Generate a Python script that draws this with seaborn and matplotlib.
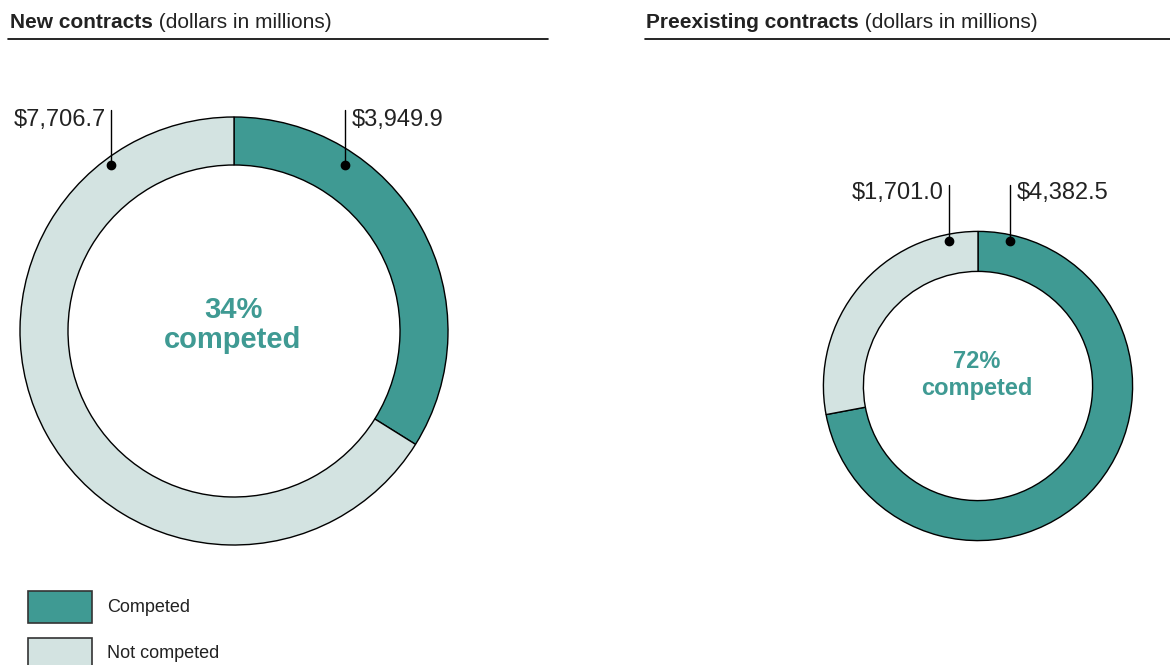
import numpy as np
import seaborn as sns
from matplotlib import pyplot as plt
from matplotlib.patches import Rectangle

sns.set_theme(style="white")
plt.rcParams['font.family'] = ['Liberation Sans', 'DejaVu Sans']

# data (dollars in millions)
panels = ["New contracts", "Preexisting contracts"]
competed = [3949.9, 4382.5]
not_competed = [7706.7, 1701.0]
categories = ["Competed", "Not competed"]

colors = ["#3f9a93", "#d3e3e1"]
teal = "#3f9a93"

W, H = 1170, 665
fig = plt.figure(figsize=(W / 100, H / 100), dpi=100)
ax = fig.add_axes([0, 0, 1, 1])

totals = [c + n for c, n in zip(competed, not_competed)]
r0 = 214
radii = [r0 * np.sqrt(t / totals[0]) for t in totals]
centers = [(234, 331), (978, 386)]
widths = [48, 40]

# y-axis is inverted (pixel coords), so counterclock=True runs clockwise on screen
for i in range(2):
    ax.pie([competed[i], not_competed[i]], colors=colors, startangle=270,
           counterclock=True, center=centers[i], radius=radii[i],
           wedgeprops=dict(width=widths[i], edgecolor="black", linewidth=1.0),
           frame=True)
ax.set_xlim(0, W)
ax.set_ylim(H, 0)
ax.set_aspect("equal")
ax.axis("off")

# titles with rules
title_x = [10, 646]
rule_x = [(8, 548), (645, 1170)]
for i in range(2):
    t = ax.text(title_x[i], 23, panels[i], fontsize=15, fontweight="bold",
                color="#222222", va="center", ha="left")
    ax.annotate(" (dollars in millions)", xy=(1, 0.5), xycoords=t,
                fontsize=15, color="#222222", va="center", ha="left")
    ax.plot(rule_x[i], [39, 39], color="black", lw=1.2)

# center labels
pct = [round(100 * c / t) for c, t in zip(competed, totals)]
center_fs = [21, 17]
center_txt_y = [(310, 340), (362, 389)]
for i in range(2):
    cx = centers[i][0] - 1
    ax.text(cx, center_txt_y[i][0], f"{pct[i]}%", fontsize=center_fs[i],
            fontweight="bold", color=teal, ha="center", va="center")
    ax.text(cx, center_txt_y[i][1], "competed", fontsize=center_fs[i],
            fontweight="bold", color=teal, ha="center", va="center")

# value callouts: (dot x, dot y, line top y, label y)
callouts = [
    [(345, 165, 110, 120, competed[0]), (111, 165, 110, 120, not_competed[0])],
    [(1010, 241, 185, 193, competed[1]), (949, 241, 185, 193, not_competed[1])],
]
for i in range(2):
    for j, (dx, dy, ty, ly, val) in enumerate(callouts[i]):
        ax.plot([dx, dx], [dy, ty], color="black", lw=1.0)
        ax.plot(dx, dy, "o", color="black", ms=6)
        if j == 0:
            ax.text(dx + 7, ly, f"${val:,.1f}", fontsize=17, color="#222222",
                    ha="left", va="center")
        else:
            ax.text(dx - 5, ly, f"${val:,.1f}", fontsize=17, color="#222222",
                    ha="right", va="center")

# legend
for k, (lab, col) in enumerate(zip(categories, colors)):
    y0 = 591 + k * 47
    ax.add_patch(Rectangle((28, y0), 64, 32, facecolor=col, edgecolor="#333333",
                           lw=1.2, clip_on=False))
    ax.text(107, y0 + 16, lab, fontsize=13, color="#222222", ha="left", va="center")

fig.savefig("out.png", dpi=100)
